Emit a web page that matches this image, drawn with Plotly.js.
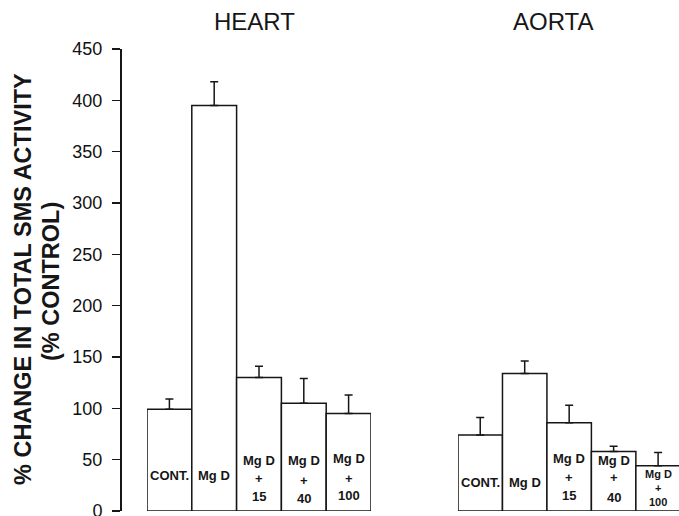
<!DOCTYPE html>
<html>
<head>
<meta charset="utf-8">
<script src="https://cdn.plot.ly/plotly-3.0.1.min.js"></script>
<style>html,body{margin:0;padding:0;background:#fff;}#chart{width:679px;height:516px;}</style>
</head>
<body>
<div id="chart"></div>
<script>
// ---- data ----
var categories = ['CONT.', 'Mg D', 'Mg D + 15', 'Mg D + 40', 'Mg D + 100'];
var barLabels = [['CONT.'], ['Mg D'], ['Mg D', '+', '15'], ['Mg D', '+', '40'], ['Mg D', '+', '100']];
var heartValues = [99, 395, 130, 105, 95];
var heartErrors = [10, 23, 11, 24, 18];
var aortaValues = [74, 134, 86, 58, 44];
var aortaErrors = [17, 12, 17, 5, 13];
var panelTitles = ['HEART', 'AORTA'];
var yTitleLines = ['% CHANGE IN TOTAL SMS ACTIVITY', '(% CONTROL)'];

// ---- style (pixel offsets of label lines above the baseline, label font sizes) ----
var heartLabelOffsets = [[36], [36], [51, 33, 15], [51, 31, 13], [53, 33, 16]];
var aortaLabelOffsets = [[29], [29], [53, 34, 16], [51, 34, 14], [37, 23, 9]];
var heartLabelSizes = [13, 13, 13, 13, 13];
var aortaLabelSizes = [13, 13, 13, 13, 11];

var ink = '#161616';
var fontFam = 'Liberation Sans, Arial, sans-serif';
var L = 120, W = 559, BASE = 511, H = 462;

function barTrace(vals, errs, xaxis) {
  return {
    type: 'bar', x: categories, y: vals, xaxis: xaxis, yaxis: 'y',
    marker: {color: '#ffffff', line: {color: ink, width: 1.5}},
    error_y: {type: 'data', array: errs, arrayminus: errs.map(function(){return 0;}),
              symmetric: false, color: ink, thickness: 1.5, width: 4},
    hoverinfo: 'none', showlegend: false
  };
}

var annotations = [];
function addLabels(xref, offsets, sizes) {
  categories.forEach(function(cat, i) {
    barLabels[i].forEach(function(line, j) {
      annotations.push({
        xref: xref, yref: 'y', x: cat, y: 0, yshift: offsets[i][j],
        xanchor: 'center', yanchor: 'middle', showarrow: false, text: line,
        font: {family: fontFam, size: sizes[i], color: ink, weight: 'bold'}
      });
    });
  });
}
addLabels('x', heartLabelOffsets, heartLabelSizes);
addLabels('x2', aortaLabelOffsets, aortaLabelSizes);

function px(x) { return (x - L) / W; }
function py(y) { return (BASE - y) / H; }

annotations.push({xref: 'paper', yref: 'paper', x: px(254.5), y: py(22), xanchor: 'center', yanchor: 'middle',
  showarrow: false, text: panelTitles[0], font: {family: fontFam, size: 24, color: ink}});
annotations.push({xref: 'paper', yref: 'paper', x: px(553), y: py(22), xanchor: 'center', yanchor: 'middle',
  showarrow: false, text: panelTitles[1], font: {family: fontFam, size: 24, color: ink}});
annotations.push({xref: 'paper', yref: 'paper', x: px(23), y: py(279), xanchor: 'center', yanchor: 'middle',
  textangle: -90, showarrow: false, text: yTitleLines[0], font: {family: fontFam, size: 23.5, color: ink, weight: 'bold'}});
annotations.push({xref: 'paper', yref: 'paper', x: px(51), y: py(282), xanchor: 'center', yanchor: 'middle',
  textangle: -90, showarrow: false, text: yTitleLines[1], font: {family: fontFam, size: 23.5, color: ink, weight: 'bold'}});

var layout = {
  width: 679, height: 516,
  margin: {l: L, r: 0, t: 49, b: 5},
  paper_bgcolor: '#ffffff', plot_bgcolor: '#ffffff',
  bargap: 0,
  xaxis: {domain: [px(147), px(371)], range: [-0.5, 4.5], showticklabels: false, ticks: '',
          showline: false, showgrid: false, zeroline: false, fixedrange: true},
  xaxis2: {domain: [px(458), 1], range: [-0.5, 4.47], anchor: 'y', showticklabels: false, ticks: '',
           showline: false, showgrid: false, zeroline: false, fixedrange: true},
  yaxis: {anchor: 'free', position: 0, range: [0, 450], dtick: 50, tick0: 0,
          ticks: 'outside', ticklen: 8, tickwidth: 1.5, tickcolor: ink,
          showline: true, linecolor: ink, linewidth: 1.5, showgrid: false, zeroline: false,
          ticklabeloverflow: 'allow',
          tickfont: {family: fontFam, size: 18, color: '#111'}, ticklabelstandoff: 6},
  annotations: annotations
};

Plotly.newPlot('chart', [barTrace(heartValues, heartErrors, 'x'), barTrace(aortaValues, aortaErrors, 'x2')],
  layout, {staticPlot: true, displayModeBar: false});
</script>
</body>
</html>
